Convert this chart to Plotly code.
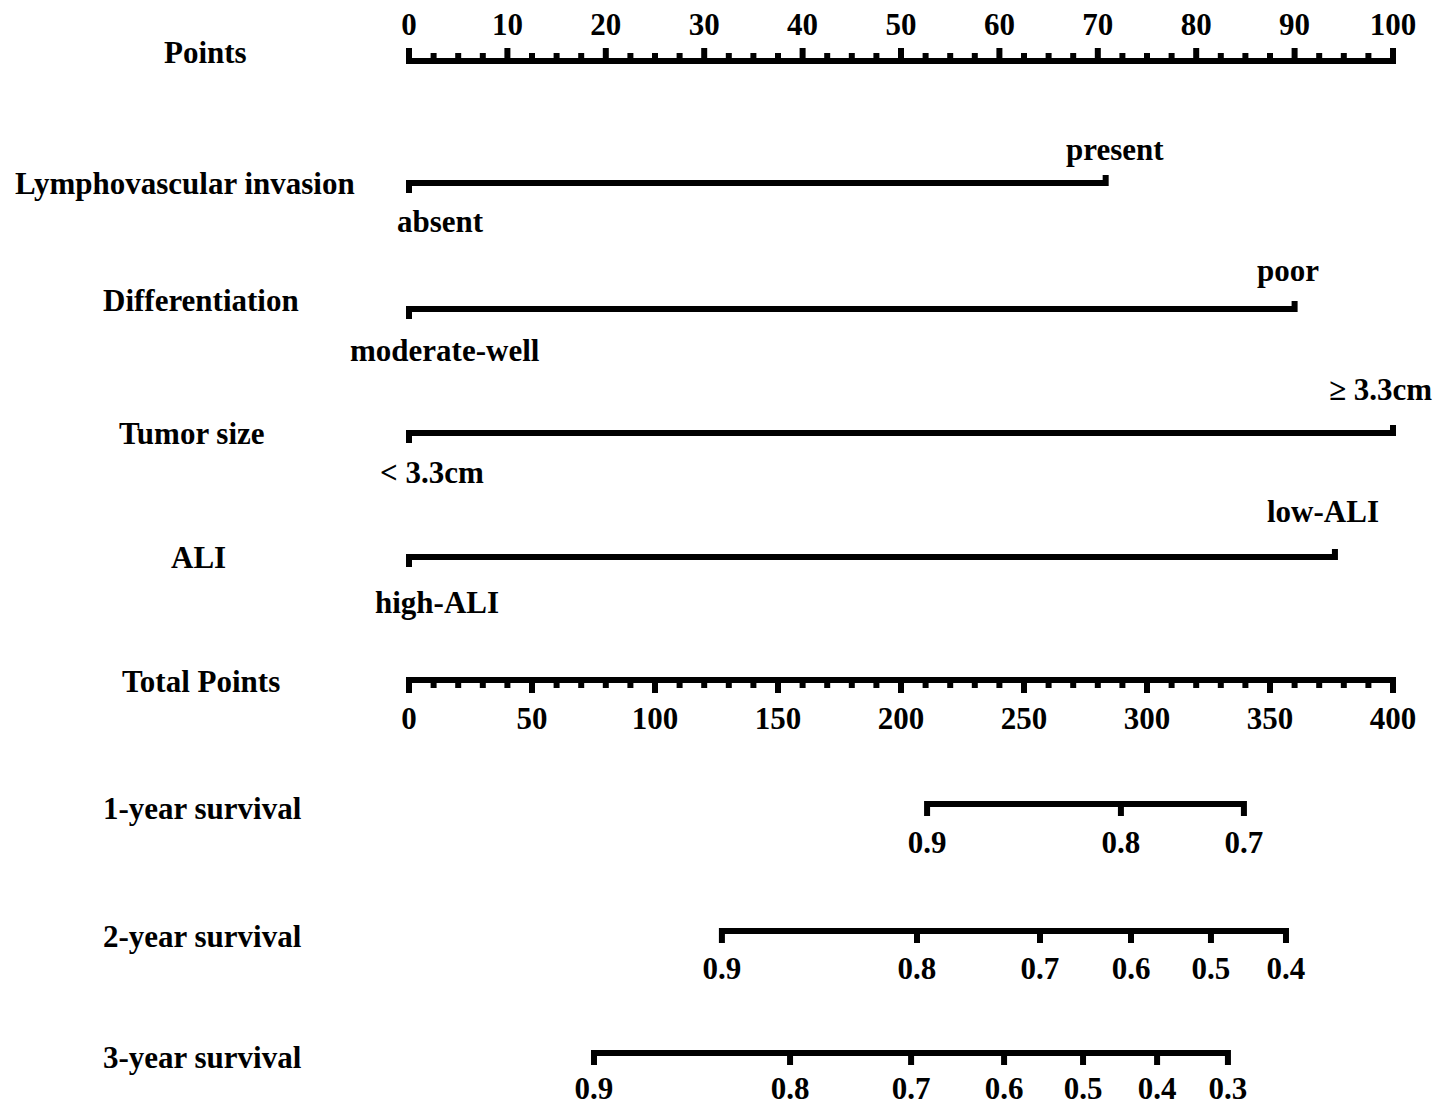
import plotly.graph_objects as go

# ---------------- data ----------------
points_ticks = [0, 10, 20, 30, 40, 50, 60, 70, 80, 90, 100]
points_minor = [2.5, 5, 7.5]  # within each decade

factor_names = ["Lymphovascular invasion", "Differentiation", "Tumor size", "ALI"]
factor_low_labels = ["absent", "moderate-well", "< 3.3cm", "high-ALI"]
factor_high_labels = ["present", "poor", "≥ 3.3cm", "low-ALI"]
factor_low_points = [0, 0, 0, 0]
factor_high_points = [70.8, 90.0, 100.0, 94.1]

total_ticks = [0, 50, 100, 150, 200, 250, 300, 350, 400]
total_minor_step = 10

surv_names = ["1-year survival", "2-year survival", "3-year survival"]
surv1_labels = ["0.9", "0.8", "0.7"]
surv1_total = [210.6, 289.4, 339.4]
surv2_labels = ["0.9", "0.8", "0.7", "0.6", "0.5", "0.4"]
surv2_total = [127.2, 206.5, 256.5, 293.5, 326.0, 356.5]
surv3_labels = ["0.9", "0.8", "0.7", "0.6", "0.5", "0.4", "0.3"]
surv3_total = [75.2, 154.9, 204.1, 241.9, 274.0, 304.1, 332.9]

# ---------------- layout constants ----------------
WIN_W, WIN_H = 1455, 1108
OFF = 8                      # default page body margin
W, H = WIN_W - OFF, WIN_H - OFF
FONT = "Liberation Serif"
FS = 31
LW = 6
row_points_y = 58
row_factor_y = [183, 309, 433, 557]
row_total_y = 683
row_surv_y = [806, 933, 1055]
name_y = [52, 183, 300, 433, 557, 681, 808, 936, 1057]
name_x = [205, 185, 201, 192, 199, 201, 203, 203, 203]
high_lab_y = [149, 270, 389, 511]
high_lab_shift = [9, -7, -13, -12]
low_lab_y = [221, 350, 472, 602]
low_lab_shift = [31, 36, 23, 28]
top_lab_y = 27
total_lab_y = 721
surv_lab_y = [845, 971, 1091]

fig = go.Figure()
tfont = dict(family=FONT, size=FS, color="black", weight="bold")

def add_path(xs, ys, xaxis="x"):
    fig.add_trace(go.Scatter(x=xs, y=ys, mode="lines", xaxis=xaxis, yaxis="y",
                             line=dict(color="black", width=LW), hoverinfo="skip",
                             showlegend=False))

def add_text(xs, ys, texts, xaxis="x"):
    fig.add_trace(go.Scatter(x=xs, y=ys, mode="text", text=texts, xaxis=xaxis, yaxis="y",
                             textposition="middle center", textfont=tfont,
                             hoverinfo="skip", showlegend=False, cliponaxis=False))

# Points axis
y0 = row_points_y
add_path([points_ticks[0], points_ticks[0], points_ticks[-1], points_ticks[-1]],
         [y0 - 10, y0 + 3, y0 + 3, y0 - 10])
xs, ys = [], []
for t in points_ticks[1:-1]:
    xs += [t, t, None]; ys += [y0, y0 - 10, None]
for t in points_ticks[:-1]:
    for m in points_minor:
        xs += [t + m, t + m, None]; ys += [y0, y0 - 5, None]
add_path(xs, ys)
add_text(points_ticks, [top_lab_y] * len(points_ticks), [str(t) for t in points_ticks])

# Factor rows
for i in range(len(factor_names)):
    y = row_factor_y[i]
    lo, hi = factor_low_points[i], factor_high_points[i]
    add_path([lo, lo, hi, hi], [y + 10, y, y, y - 8])
    fig.add_annotation(x=lo, y=low_lab_y[i], xref="x", yref="y",
                       text=factor_low_labels[i], showarrow=False, xshift=low_lab_shift[i],
                       font=tfont)
    fig.add_annotation(x=hi, y=high_lab_y[i], xref="x", yref="y",
                       text=factor_high_labels[i], showarrow=False, xshift=high_lab_shift[i],
                       font=tfont)

# Total points axis
yt = row_total_y
add_path([total_ticks[0], total_ticks[0], total_ticks[-1], total_ticks[-1]],
         [yt + 10, yt - 3, yt - 3, yt + 10], xaxis="x2")
xs, ys = [], []
for t in total_ticks[1:-1]:
    xs += [t, t, None]; ys += [yt, yt + 10, None]
for t in range(total_ticks[0], total_ticks[-1], total_minor_step):
    if t % 50 != 0:
        xs += [t, t, None]; ys += [yt, yt + 5, None]
add_path(xs, ys, xaxis="x2")
add_text(total_ticks, [total_lab_y] * len(total_ticks), [str(t) for t in total_ticks], xaxis="x2")

# Survival rows
surv_sets = [(surv1_total, surv1_labels), (surv2_total, surv2_labels), (surv3_total, surv3_labels)]
for k, (vals, labs) in enumerate(surv_sets):
    y = row_surv_y[k]
    add_path([vals[0], vals[0], vals[-1], vals[-1]], [y + 10, y - 2, y - 2, y + 10], xaxis="x2")
    xs, ys = [], []
    for v in vals[1:-1]:
        xs += [v, v, None]; ys += [y, y + 10, None]
    if xs:
        add_path(xs, ys, xaxis="x2")
    add_text(vals, [surv_lab_y[k]] * len(vals), labs, xaxis="x2")

# Row names
row_names = ["Points"] + factor_names + ["Total Points"] + surv_names
for i, nm in enumerate(row_names):
    fig.add_annotation(x=(name_x[i] - OFF) / W, y=name_y[i], xref="paper", yref="y", text=nm,
                       showarrow=False, xanchor="center", font=tfont)

px_per_pt = 9.84
zero_px = 409 - OFF
x_lo = -zero_px / px_per_pt
x_hi = (W - zero_px) / px_per_pt
fig.update_layout(
    width=W, height=H, margin=dict(l=0, r=0, t=0, b=0),
    paper_bgcolor="white", plot_bgcolor="white",
    xaxis=dict(range=[x_lo, x_hi], visible=False, domain=[0, 1]),
    xaxis2=dict(range=[x_lo * 4, x_hi * 4], visible=False, overlaying="x", anchor="y"),
    yaxis=dict(range=[OFF + H, OFF], visible=False, domain=[0, 1]),
    showlegend=False,
)

fig.write_html("out.html")
